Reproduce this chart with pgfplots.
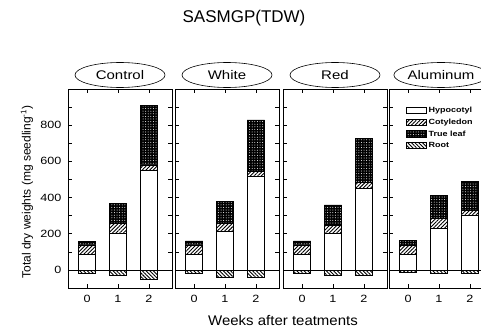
\documentclass[border=0pt]{standalone}
\usepackage{fontspec}
\setmainfont{Liberation Sans}
\newfontfamily\wide[FakeStretch=1.2]{Liberation Sans}
\newfontfamily\widex[FakeStretch=1.07]{Liberation Sans}
\usepackage{pgfplots}
\usepackage{pgfplotstable}
\pgfplotsset{compat=1.18}
\usetikzlibrary{patterns,patterns.meta,shapes.geometric}

\pgfplotstableread{
wk hyp cot leaf root
0 83 55 18 -20
1 202 56 110 -31
2 552 28 331 -51
}\ctrl
\pgfplotstableread{
wk hyp cot leaf root
0 83 55 22 -18
1 212 46 119 -40
2 516 27 286 -40
}\white
\pgfplotstableread{
wk hyp cot leaf root
0 83 55 22 -18
1 202 43 114 -31
2 451 33 243 -31
}\red
\pgfplotstableread{
wk hyp cot leaf root
0 83 53 26 -15
1 230 55 129 -18
2 304 27 157 -18
}\alum

\tikzset{
  hypst/.style={draw=black, line width=0.8pt, fill=white},
  cotst/.style={draw=black, line width=0.8pt, fill=white, postaction={pattern={Lines[angle=45,distance=2.6pt,line width=0.9pt]}}},
  leafst/.style={draw=black, line width=0.8pt, fill=black, postaction={pattern={Dots[distance=2.6pt,radius=0.5pt]}, pattern color=white}},
  rootst/.style={draw=black, line width=0.8pt, fill=white, postaction={pattern={Lines[angle=-45,distance=2.6pt,line width=0.9pt]}}},
}
\pgfplotsset{
  panel/.style={
    scale only axis, width=104pt, height=199pt,
    xmin=-0.62, xmax=2.75, ymin=-100, ymax=1000,
    ybar stacked, bar width=0.56,
    xtick={0,1,2}, ytick={0,200,...,800}, minor ytick={100,300,...,900},
    tick align=inside, major tick length=4pt, minor tick length=4pt,
    tick pos=both,
    axis line style={line width=0.8pt},
    tick style={line width=0.6pt, black},
    /pgf/number format/assume math mode=true,
    tick label style={font=\wide\fontsize{10.5}{12}\selectfont},
    xticklabel style={yshift=-4pt},
    yticklabel style={xshift=-3pt},
    anchor=south west,
  },
}
\newcommand{\bars}[1]{%
  \addplot[hypst] table[x=wk,y=hyp] {#1};
  \addplot[cotst] table[x=wk,y=cot] {#1};
  \addplot[leafst] table[x=wk,y=leaf] {#1};
  \addplot[rootst, stack plots=false] table[x=wk,y=root] {#1};
  \draw[line width=0.6pt] (axis cs:-0.62,0) -- (axis cs:2.75,0);
}

\begin{document}
\begin{tikzpicture}
\useasboundingbox (0,0) rectangle (481pt,327pt);

\begin{axis}[panel, at={(68pt,39pt)}]
\bars{\ctrl}
\end{axis}
\begin{axis}[panel, at={(175pt,39pt)}, yticklabels={}]
\bars{\white}
\end{axis}
\begin{axis}[panel, at={(283pt,39pt)}, yticklabels={}]
\bars{\red}
\end{axis}
\begin{axis}[panel, at={(389pt,39pt)}, yticklabels={},
  legend style={draw=none, fill=none, at={(0.13,0.93)}, anchor=north west,
    font=\wide\fontsize{7.5}{8}\selectfont\bfseries, row sep=0.8pt},
  legend cell align=left,
  legend image code/.code={\draw[#1] (0pt,-3.2pt) rectangle (20pt,3.2pt);}]
\addplot[hypst, forget plot] table[x=wk,y=hyp] {\alum};
\addplot[cotst, forget plot] table[x=wk,y=cot] {\alum};
\addplot[leafst, forget plot] table[x=wk,y=leaf] {\alum};
\addplot[rootst, stack plots=false, forget plot] table[x=wk,y=root] {\alum};
\draw[line width=0.6pt] (axis cs:-0.62,0) -- (axis cs:2.75,0);
\addlegendimage{hypst}\addlegendentry{Hypocotyl}
\addlegendimage{cotst}\addlegendentry{Cotyledon}
\addlegendimage{leafst}\addlegendentry{True leaf}
\addlegendimage{rootst}\addlegendentry{Root}
\end{axis}

\foreach \cx/\lab in {120/Control,227/White,335/Red,441/Aluminum}{
  \node[draw, ellipse, line width=0.6pt, minimum width=90pt, minimum height=25pt,
    inner sep=0pt, font=\wide\fontsize{12.5}{14}\selectfont] at (\cx pt,252pt) {\lab};
}
\node[font=\fontsize{17}{20}\selectfont] at (244pt,309pt) {SASMGP(TDW)};
\node[font=\widex\fontsize{14}{16}\selectfont] at (283pt,7pt) {Weeks after teatments};
\node[rotate=90, font=\fontsize{12}{14}\selectfont] at (27pt,135pt) {Total dry weights (mg seedling\textsuperscript{-1})};
\end{tikzpicture}
\end{document}
